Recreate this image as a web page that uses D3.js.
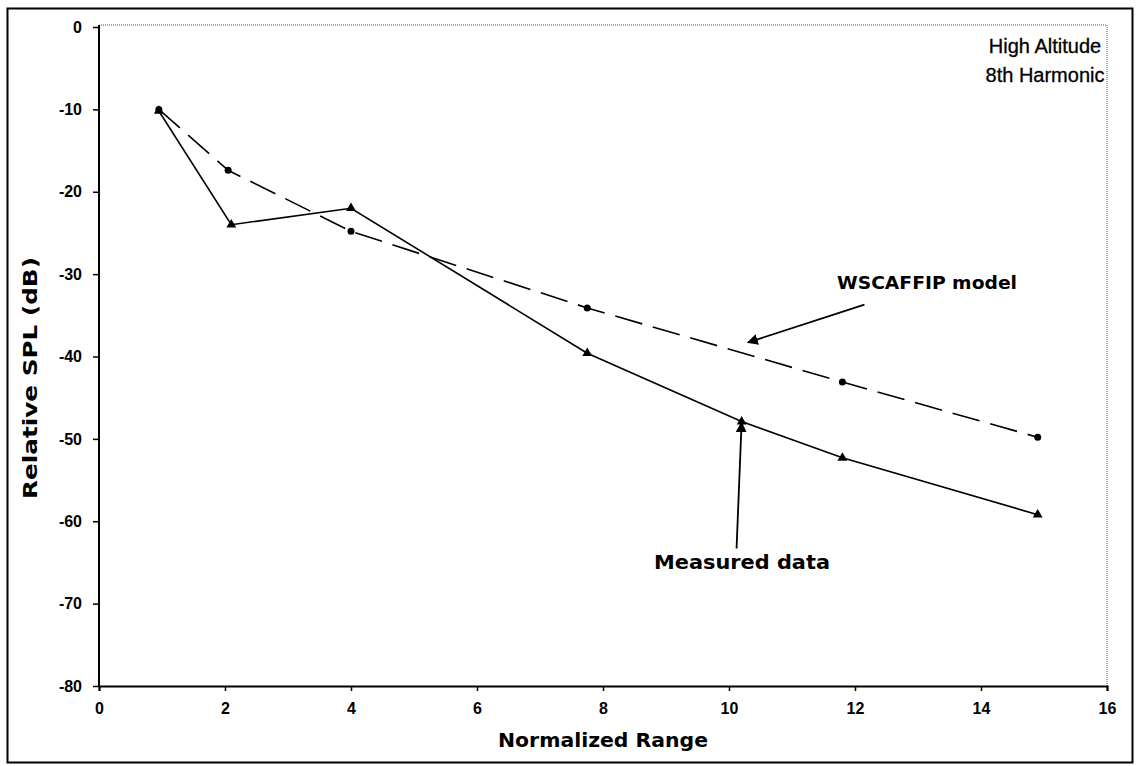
<!DOCTYPE html>
<html>
<head>
<meta charset="utf-8">
<script src="https://cdn.jsdelivr.net/npm/d3@7"></script>
<style>
  html, body { margin: 0; padding: 0; background: #fff; }
  svg { display: block; }
  text { font-family: Arial, "Liberation Sans", sans-serif; fill: #000; }
</style>
</head>
<body>
<svg id="chart" width="1139" height="766"></svg>
<script>
// ---- data ----
const modelX = [0.95, 2.05, 4.0, 7.75, 11.8, 14.9];
const modelY = [-10.0, -17.4, -24.8, -34.1, -43.1, -49.8];
const measuredX = [0.95, 2.1, 4.0, 7.75, 10.2, 11.8, 14.9];
const measuredY = [-10.2, -24.0, -22.0, -39.6, -47.9, -52.3, -59.2];
const xTicks = [0, 2, 4, 6, 8, 10, 12, 14, 16];
const yTicks = [0, -10, -20, -30, -40, -50, -60, -70, -80];
const titleLines = ["High Altitude", "8th Harmonic"];
const xLabel = "Normalized Range";
const yLabel = "Relative SPL (dB)";
const modelLabel = "WSCAFFIP model";
const measuredLabel = "Measured data";
// annotation arrows in data coordinates: [tailX, tailY, headX, headY]
const modelArrow = [12.15, -33.7, 10.3, -38.3];
const measuredArrow = [10.12, -63.3, 10.2, -48.0];

// ---- layout ----
const svg = d3.select("#chart");
const L = 99, R = 1107, T = 27, B = 686;
const x = d3.scaleLinear().domain([0, 16]).range([L, R]);
const y = d3.scaleLinear().domain([-80, 0]).range([B, T]);
const fmt = d => String(d); // plain hyphen-minus like the original

// outer frame
svg.append("rect").attr("x", 7.5).attr("y", 8.5).attr("width", 1125).attr("height", 754)
  .attr("fill", "none").attr("stroke", "#000").attr("stroke-width", 2);

// plot area top/right dotted borders
svg.append("line").attr("x1", L).attr("x2", R).attr("y1", T - 2).attr("y2", T - 2)
  .attr("stroke", "#555").attr("stroke-width", 1).attr("stroke-dasharray", "1,1");
svg.append("line").attr("x1", R).attr("x2", R).attr("y1", T - 2).attr("y2", B)
  .attr("stroke", "#555").attr("stroke-width", 1).attr("stroke-dasharray", "1,1");

// axes
const xAxis = d3.axisBottom(x).tickValues(xTicks).tickSize(5).tickPadding(12).tickFormat(fmt);
const yAxis = d3.axisLeft(y).tickValues(yTicks).tickSize(6).tickPadding(11).tickFormat(fmt);

const gx = svg.append("g").attr("transform", `translate(0,${B})`).call(xAxis);
const gy = svg.append("g").attr("transform", `translate(${L},0)`).call(yAxis);
[gx, gy].forEach(g => {
  g.attr("font-size", 16).attr("font-family", "Arial, 'Liberation Sans', sans-serif").attr("font-weight", "bold");
  g.select(".domain").attr("stroke", "#000").attr("stroke-width", 2);
  g.selectAll(".tick line").attr("stroke", "#000").attr("stroke-width", 1.5);
  g.selectAll(".tick text").attr("fill", "#000").style("font-size", "16px").style("font-weight", "bold");
});
gy.select(".domain").attr("d", `M0,${T - 2}V${B}`);

// axis titles
svg.append("text").attr("x", (L + R) / 2).attr("y", 747).attr("text-anchor", "middle")
  .style("font-size", "20px").style("font-weight", "bold").style("font-family", "'DejaVu Sans', Arial, sans-serif")
  .attr("textLength", 210).attr("lengthAdjust", "spacingAndGlyphs").text(xLabel);
svg.append("text").attr("transform", `translate(37,${378}) rotate(-90)`).attr("text-anchor", "middle")
  .style("font-size", "20px").style("font-weight", "bold").style("font-family", "'DejaVu Sans', Arial, sans-serif")
  .attr("textLength", 242).attr("lengthAdjust", "spacingAndGlyphs").text(yLabel);

// title block
svg.append("g").selectAll("text").data(titleLines).join("text")
  .attr("x", 1045).attr("y", (d, i) => 53 + i * 29).attr("text-anchor", "middle")
  .style("font-size", "20px").attr("stroke", "#000").attr("stroke-width", 0.3).text(d => d);

// lines
const modelData = modelX.map((v, i) => [v, modelY[i]]);
const measuredData = measuredX.map((v, i) => [v, measuredY[i]]);
const line = d3.line().x(d => x(d[0])).y(d => y(d[1]));

svg.append("path").datum(modelData).attr("d", line).attr("fill", "none")
  .attr("stroke", "#000").attr("stroke-width", 1.6).attr("stroke-dasharray", "28,11");
svg.append("path").datum(measuredData).attr("d", line).attr("fill", "none")
  .attr("stroke", "#000").attr("stroke-width", 1.6);

// markers
svg.append("g").selectAll("circle").data(modelData).join("circle")
  .attr("cx", d => x(d[0])).attr("cy", d => y(d[1])).attr("r", 3.5).attr("fill", "#000");
const tri = d3.symbol().type(d3.symbolTriangle).size(42);
svg.append("g").selectAll("path").data(measuredData).join("path")
  .attr("transform", d => `translate(${x(d[0])},${y(d[1])})`).attr("d", tri).attr("fill", "#000");

// arrows
const defs = svg.append("defs");
defs.append("marker").attr("id", "ah").attr("viewBox", "0 0 10 10").attr("refX", 9).attr("refY", 5)
  .attr("markerWidth", 11).attr("markerHeight", 11).attr("markerUnits", "userSpaceOnUse")
  .attr("orient", "auto")
  .append("path").attr("d", "M0,0L10,5L0,10Z").attr("fill", "#000");

[modelArrow, measuredArrow].forEach(a => {
  svg.append("line").attr("x1", x(a[0])).attr("y1", y(a[1])).attr("x2", x(a[2])).attr("y2", y(a[3]))
    .attr("stroke", "#000").attr("stroke-width", 1.8).attr("marker-end", "url(#ah)");
});

// annotation text
svg.append("text").attr("x", 927).attr("y", 289).attr("text-anchor", "middle")
  .style("font-size", "18px").style("font-weight", "bold").style("font-family", "'DejaVu Sans', Arial, sans-serif")
  .attr("textLength", 180).attr("lengthAdjust", "spacingAndGlyphs").text(modelLabel);
svg.append("text").attr("x", 742).attr("y", 569).attr("text-anchor", "middle")
  .style("font-size", "19px").style("font-weight", "bold").style("font-family", "'DejaVu Sans', Arial, sans-serif")
  .attr("textLength", 176).attr("lengthAdjust", "spacingAndGlyphs").text(measuredLabel);
</script>
</body>
</html>
